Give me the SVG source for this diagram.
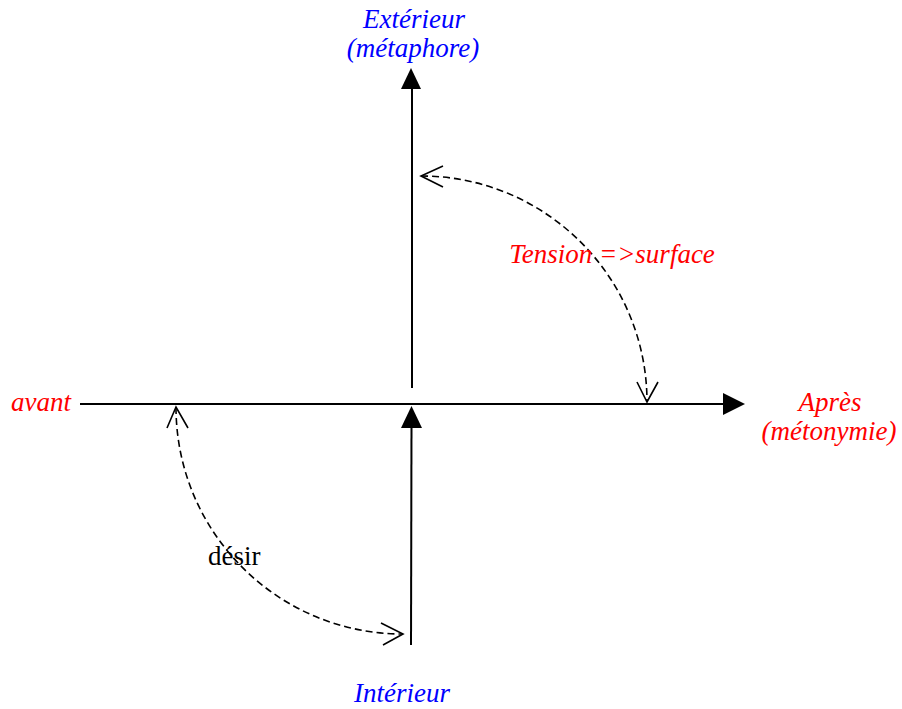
<svg xmlns="http://www.w3.org/2000/svg" width="902" height="709" viewBox="0 0 902 709">
<style>
.lbl{font-family:"Liberation Serif","Times New Roman",serif;font-size:27px;font-style:italic}
.blue{fill:#0000ff}
.red{fill:#ff0000}
.axis{stroke:#000;stroke-width:2;fill:none}
.arc{stroke:#000;stroke-width:1.6;fill:none;stroke-dasharray:7 4}
.open{stroke:#000;stroke-width:1.6;fill:none}
.head{fill:#000}
</style>
<rect width="902" height="709" fill="#fff"/>
<g id="connectors">
  <line class="axis" x1="412" y1="388" x2="412" y2="86"/>
  <polygon class="head" points="411,68 401,89 421,89"/>
  <line class="axis" x1="80" y1="404" x2="725" y2="404"/>
  <polygon class="head" points="745,404 723,393 723,415"/>
  <line class="axis" x1="411" y1="645" x2="411.5" y2="426"/>
  <polygon class="head" points="411.5,406 401,428 422,428"/>
  <path class="arc" d="M421,176 C545.8,176 647,277.2 647,402"/>
  <polyline class="open" points="443,166 421,176 443,187"/>
  <polyline class="open" points="637,382 647,402 658,382"/>
  <path class="arc" d="M176,407 C176,532.4 277.6,634 403,634"/>
  <polyline class="open" points="167,428 176,407 188,428"/>
  <polyline class="open" points="381,623 403,634 383,645"/>
</g>
<g id="exterieur"><text class="lbl blue" x="414" y="28" text-anchor="middle">Extérieur</text><text class="lbl blue" x="413" y="57" text-anchor="middle">(métaphore)</text></g>
<g id="tension"><text class="lbl red" x="612" y="263" text-anchor="middle">Tension =&gt;surface</text></g>
<g id="avant"><text class="lbl red" x="11" y="411">avant</text></g>
<g id="apres"><text class="lbl red" x="830" y="411" text-anchor="middle">Après</text><text class="lbl red" x="829" y="440" text-anchor="middle">(métonymie)</text></g>
<g id="desir"><text x="208" y="565" style="font-family:'Liberation Serif','Times New Roman',serif;font-size:27px;fill:#000">désir</text></g>
<g id="interieur"><text class="lbl blue" x="402" y="702" text-anchor="middle">Intérieur</text></g>
</svg>
